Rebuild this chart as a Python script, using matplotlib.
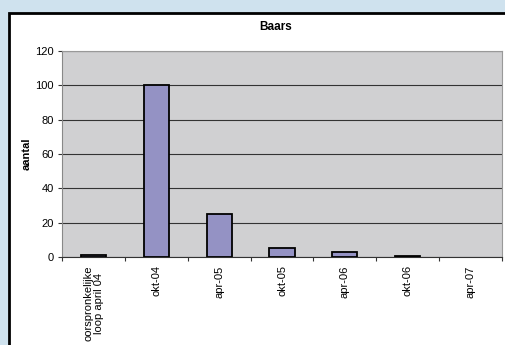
import matplotlib
matplotlib.use("Agg")
import matplotlib.pyplot as plt
from matplotlib.patches import Rectangle

categories = ["oorspronkelijke\nloop april 04", "okt-04", "apr-05", "okt-05", "apr-06", "okt-06", "apr-07"]
values = [1, 100, 25, 5, 3, 0.3, 0]
yticks = [0, 20, 40, 60, 80, 100, 120]

plt.rcParams['font.family'] = ['Liberation Sans', 'DejaVu Sans']

fig = plt.figure(figsize=(5.05, 3.45), dpi=100)
fig.patch.set_facecolor('#cfe2ee')

# white chart frame
frame = Rectangle((9/505, -0.05), 1.0, 1 - 12.5/345 + 0.05, transform=fig.transFigure,
                  facecolor='white', edgecolor='black', linewidth=2, zorder=-1)
fig.patches.append(frame)

ax = fig.add_axes([62/505, 1 - 257/345, 440/505, (257 - 51)/345])
ax.set_zorder(2)
ax.set_facecolor('#d0d0d2')
x = list(range(len(categories)))
bars = ax.bar(x, values, width=0.4, color='#9492c4', edgecolor='black', linewidth=1.3, zorder=3)
for b, v in zip(bars, values):
    if v == 0:
        b.set_visible(False)
ax.set_xlim(-0.5, len(categories) - 0.5)
ax.set_ylim(0, 120)
ax.set_yticks(yticks)
ax.set_yticklabels([str(v) for v in yticks], fontsize=8)
ax.yaxis.grid(True, color='#333333', linewidth=0.8, zorder=1)
ax.set_axisbelow(True)
ax.set_xticks([i + 0.5 for i in range(-1, len(categories))], minor=False)
ax.set_xticklabels([])
ax.set_xticks(x, minor=True)
ax.set_xticklabels(categories, minor=True, rotation=90, fontsize=8, linespacing=1.05)
ax.tick_params(axis='x', which='minor', length=0, pad=6)
ax.tick_params(axis='x', which='major', length=3, direction='out', color='#333333')
ax.tick_params(axis='y', length=3, direction='out', color='#333333', pad=3)
for s in ['top', 'right']:
    ax.spines[s].set_color('#999999')
ax.spines['left'].set_color('#888888')
ax.spines['bottom'].set_color('#333333')
ax.set_ylabel('aantal', fontsize=8, fontweight='bold', va='center')
ax.yaxis.set_label_coords((27 - 62) / 440, 0.5)
fig.text(276/505, 1 - 27/345, 'Baars', ha='center', va='center', fontsize=8.5, fontweight='bold')

fig.savefig('out.png', dpi=100, facecolor=fig.get_facecolor())
